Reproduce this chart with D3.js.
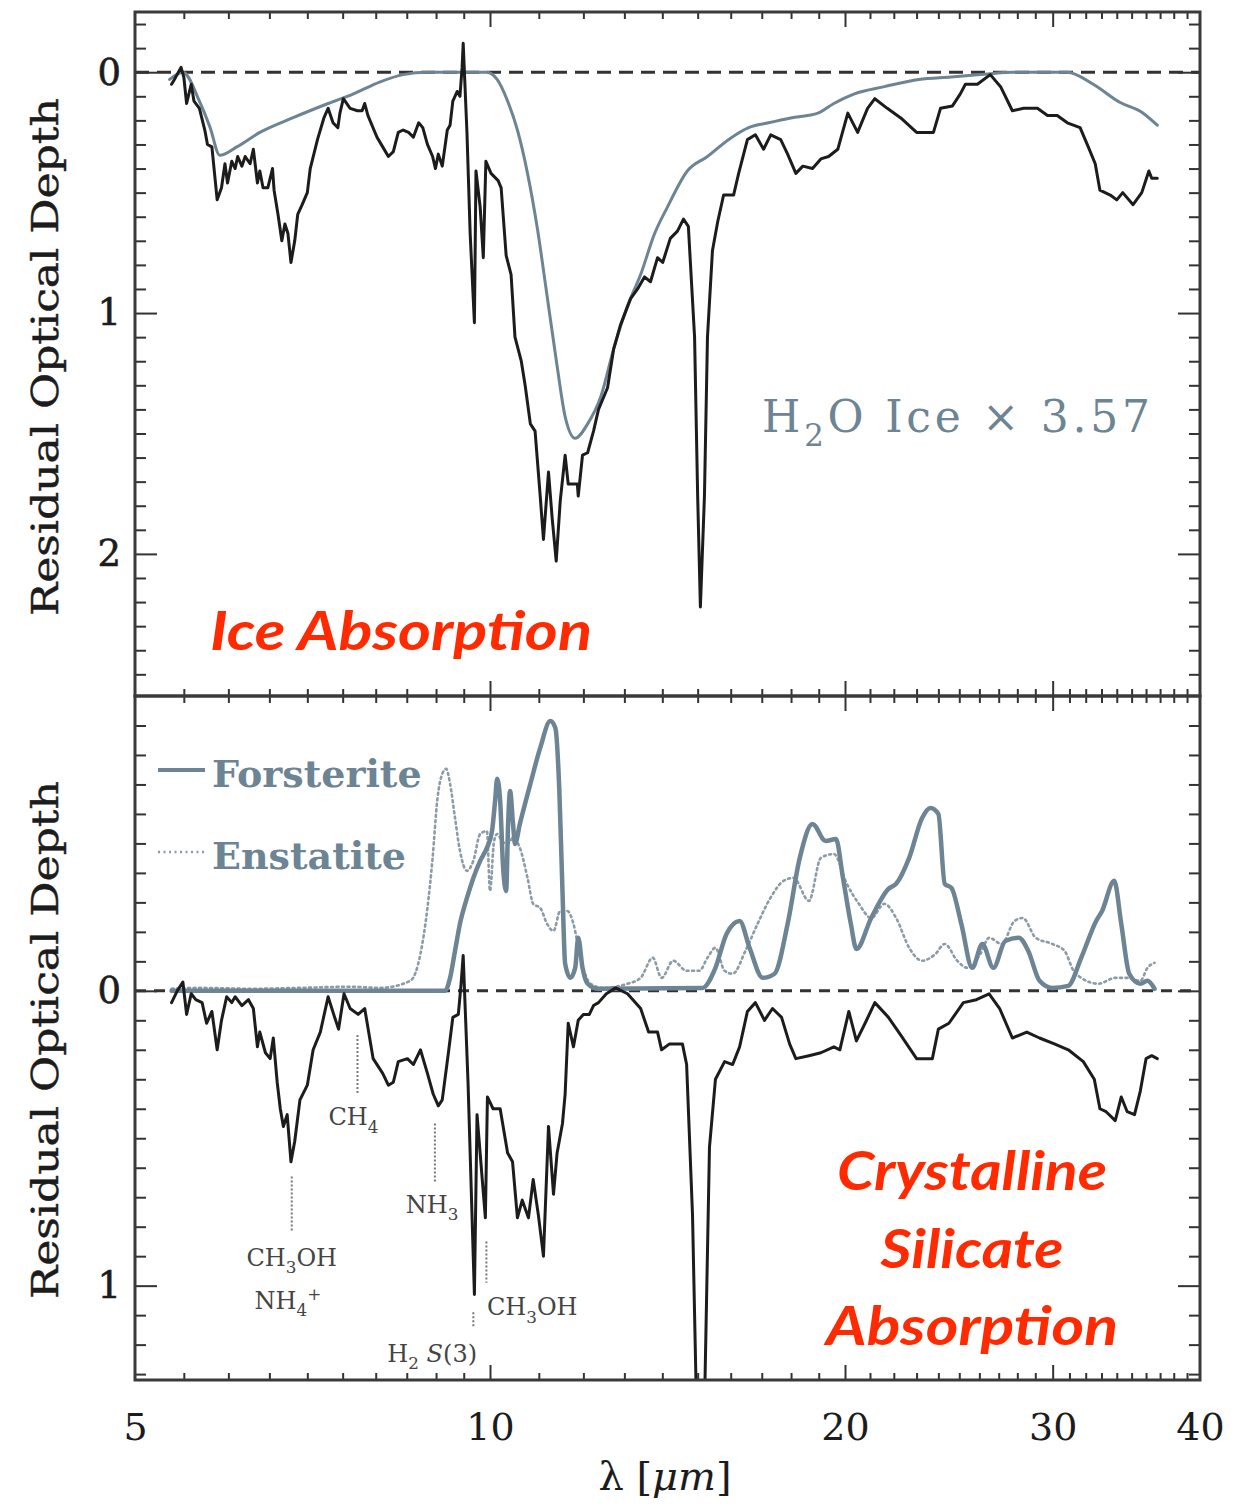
<!DOCTYPE html>
<html>
<head>
<meta charset="utf-8">
<script src="https://cdn.jsdelivr.net/npm/d3@7"></script>
<style>
  html, body { margin: 0; padding: 0; background: #fff; }
  svg { display: block; }
</style>
</head>
<body>
<svg id="chart" width="1236" height="1504"></svg>
<script>
// ---------------------------------------------------------------
// Spectra: [wavelength (µm), residual optical depth]
// ---------------------------------------------------------------

// Upper panel: residual after silicate removal
const iceResidual = [
  [5.37,0.05],[5.40,0.03],[5.47,-0.02],[5.50,0.02],[5.53,0.13],[5.58,0.05],[5.61,0.12],[5.67,0.15],
  [5.73,0.24],[5.76,0.30],[5.81,0.31],[5.84,0.42],[5.87,0.53],[5.92,0.48],[5.96,0.38],[5.99,0.46],
  [6.04,0.37],[6.08,0.40],[6.11,0.35],[6.16,0.39],[6.20,0.35],[6.26,0.38],[6.30,0.32],[6.35,0.46],
  [6.38,0.41],[6.42,0.48],[6.48,0.48],[6.54,0.40],[6.56,0.49],[6.61,0.59],[6.66,0.70],[6.70,0.63],
  [6.74,0.67],[6.78,0.79],[6.83,0.70],[6.87,0.59],[6.93,0.55],[7.00,0.50],[7.04,0.40],[7.14,0.28],
  [7.23,0.19],[7.29,0.15],[7.36,0.21],[7.43,0.23],[7.46,0.17],[7.51,0.11],[7.61,0.15],[7.72,0.16],
  [7.79,0.16],[7.83,0.13],[7.88,0.18],[8.02,0.27],[8.11,0.31],[8.20,0.35],[8.28,0.33],[8.36,0.25],
  [8.44,0.24],[8.53,0.25],[8.61,0.27],[8.70,0.21],[8.77,0.23],[8.85,0.30],[8.94,0.35],[8.99,0.40],
  [9.04,0.34],[9.11,0.39],[9.20,0.24],[9.25,0.22],[9.30,0.12],[9.38,0.08],[9.43,0.10],[9.47,-0.02],
  [9.49,-0.12],[9.56,0.25],[9.62,0.67],[9.70,1.04],[9.73,0.41],[9.81,0.56],[9.87,0.77],[9.92,0.37],
  [10.02,0.42],[10.16,0.45],[10.22,0.48],[10.32,0.76],[10.42,0.84],[10.50,1.10],[10.63,1.20],[10.71,1.30],
  [10.82,1.46],[10.92,1.49],[11.03,1.76],[11.10,1.94],[11.21,1.66],[11.29,1.85],[11.38,2.03],[11.47,1.78],
  [11.58,1.59],[11.65,1.71],[11.86,1.71],[11.88,1.76],[11.98,1.59],[12.10,1.58],[12.24,1.49],[12.36,1.40],
  [12.58,1.31],[12.73,1.15],[12.90,1.05],[13.16,0.94],[13.34,0.90],[13.52,0.85],[13.68,0.87],[13.87,0.77],
  [14.01,0.79],[14.22,0.69],[14.42,0.66],[14.59,0.61],[14.73,0.64],[14.91,1.10],[15.00,1.76],[15.08,2.22],
  [15.20,1.76],[15.29,1.10],[15.44,0.74],[15.60,0.62],[15.78,0.51],[16.09,0.51],[16.25,0.42],[16.53,0.28],
  [16.79,0.26],[17.06,0.32],[17.30,0.26],[17.64,0.28],[17.88,0.34],[18.17,0.42],[18.42,0.39],[18.77,0.40],
  [19.08,0.36],[19.37,0.35],[19.72,0.32],[20.11,0.17],[20.50,0.25],[20.90,0.15],[21.20,0.11],[21.72,0.15],
  [22.30,0.19],[23.00,0.25],[23.77,0.25],[24.10,0.15],[24.67,0.14],[25.05,0.09],[25.30,0.05],[25.90,0.05],
  [26.56,0.01],[27.10,0.06],[27.73,0.16],[28.35,0.15],[29.12,0.15],[29.70,0.18],[30.27,0.18],[30.87,0.21],
  [31.65,0.23],[32.16,0.31],[32.60,0.38],[32.90,0.49],[33.57,0.51],[34.00,0.53],[34.40,0.50],[35.10,0.55],
  [35.70,0.50],[36.20,0.41],[36.40,0.44],[36.80,0.44]
];

// Laboratory H2O ice profile, scaled by 3.57
const waterIce = [
  [5.35,0.03],[5.49,0.00],[5.67,0.12],[5.79,0.23],[5.90,0.345],[6.10,0.31],[6.38,0.25],[6.80,0.19],
  [7.29,0.13],[7.66,0.09],[8.07,0.04],[8.44,0.01],[8.85,0.00],[9.94,0.00],[10.14,0.03],[10.35,0.12],
  [10.55,0.24],[10.76,0.42],[10.97,0.65],[11.18,0.93],[11.40,1.22],[11.58,1.43],[11.81,1.52],[12.10,1.46],
  [12.41,1.35],[12.73,1.15],[13.08,0.97],[13.42,0.84],[13.79,0.67],[14.14,0.56],[14.70,0.41],[15.29,0.35],
  [15.93,0.28],[16.57,0.23],[17.23,0.21],[17.99,0.19],[18.97,0.17],[19.57,0.13],[20.37,0.09],[21.60,0.06],
  [23.10,0.03],[24.60,0.02],[26.05,0.01],[27.80,0.00],[30.87,0.00],[32.47,0.05],[34.20,0.125],[35.80,0.17],
  [36.80,0.22]
];

// Lower panel: residual after ice removal
const silicateResidual = [
  [5.37,0.04],[5.43,0.00],[5.49,-0.03],[5.53,0.08],[5.58,0.01],[5.63,0.03],[5.70,0.04],[5.75,0.11],
  [5.81,0.07],[5.87,0.20],[5.92,0.10],[5.98,0.02],[6.04,0.04],[6.08,0.02],[6.16,0.05],[6.24,0.03],
  [6.30,0.06],[6.35,0.19],[6.38,0.14],[6.45,0.21],[6.51,0.23],[6.55,0.16],[6.60,0.31],[6.64,0.40],
  [6.68,0.46],[6.73,0.42],[6.78,0.58],[6.83,0.51],[6.90,0.37],[7.00,0.32],[7.08,0.20],[7.18,0.14],
  [7.29,0.02],[7.37,0.08],[7.44,0.13],[7.52,0.01],[7.61,0.06],[7.73,0.08],[7.83,0.06],[7.96,0.23],
  [8.11,0.28],[8.20,0.32],[8.28,0.31],[8.36,0.24],[8.51,0.23],[8.61,0.25],[8.73,0.20],[8.85,0.28],
  [8.95,0.35],[9.04,0.39],[9.11,0.37],[9.22,0.21],[9.30,0.09],[9.40,0.08],[9.45,-0.02],[9.49,-0.12],
  [9.58,0.31],[9.70,1.03],[9.75,0.42],[9.85,0.64],[9.91,0.77],[9.95,0.36],[10.06,0.40],[10.20,0.40],
  [10.35,0.55],[10.45,0.58],[10.55,0.77],[10.65,0.71],[10.78,0.77],[10.88,0.64],[10.99,0.76],[11.10,0.90],
  [11.21,0.46],[11.32,0.69],[11.40,0.55],[11.52,0.45],[11.58,0.35],[11.65,0.11],[11.77,0.19],[11.88,0.10],
  [12.00,0.08],[12.14,0.08],[12.24,0.05],[12.36,0.04],[12.55,0.01],[12.78,-0.01],[13.08,0.01],[13.42,0.06],
  [13.63,0.14],[13.87,0.14],[13.98,0.20],[14.20,0.18],[14.56,0.18],[14.68,0.25],[14.85,0.76],[15.00,1.60],
  [15.08,2.20],[15.17,1.60],[15.35,0.53],[15.53,0.30],[15.81,0.24],[16.06,0.25],[16.28,0.19],[16.53,0.07],
  [16.79,0.04],[17.09,0.10],[17.36,0.06],[17.67,0.09],[17.95,0.18],[18.17,0.23],[18.64,0.22],[19.08,0.21],
  [19.57,0.19],[19.80,0.20],[20.15,0.07],[20.45,0.17],[20.80,0.11],[21.20,0.04],[21.77,0.09],[22.30,0.15],
  [23.00,0.23],[23.72,0.23],[24.00,0.13],[24.50,0.11],[25.20,0.04],[25.85,0.03],[26.50,0.01],[27.05,0.06],
  [27.73,0.16],[28.52,0.14],[29.24,0.16],[30.10,0.18],[30.93,0.20],[31.85,0.24],[32.54,0.30],[32.90,0.40],
  [33.30,0.41],[33.90,0.44],[34.30,0.36],[34.70,0.41],[35.20,0.42],[35.60,0.34],[36.00,0.23],[36.40,0.22],
  [36.80,0.23]
];

// Crystalline silicate templates (emissivity shown as negative depth)
const forsterite = [
  [5.37,0.00],[9.16,0.00],[9.25,-0.044],[9.34,-0.136],[9.43,-0.227],[9.56,-0.315],[9.68,-0.383],[9.81,-0.441],
  [9.94,-0.485],[10.04,-0.542],[10.10,-0.644],[10.14,-0.719],[10.20,-0.644],[10.26,-0.417],[10.32,-0.339],
  [10.36,-0.566],[10.40,-0.678],[10.46,-0.566],[10.50,-0.498],[10.60,-0.566],[10.82,-0.702],[11.03,-0.824],
  [11.25,-0.915],[11.36,-0.892],[11.45,-0.678],[11.52,-0.339],[11.58,-0.092],[11.70,-0.044],[11.81,-0.078],
  [11.88,-0.18],[11.98,-0.078],[12.10,-0.024],[12.34,-0.007],[15.14,-0.01],[15.53,-0.078],[15.87,-0.193],
  [16.28,-0.237],[16.60,-0.146],[17.03,-0.044],[17.43,-0.058],[17.88,-0.227],[18.31,-0.451],[18.77,-0.566],
  [19.26,-0.508],[19.65,-0.515],[19.92,-0.383],[20.23,-0.227],[20.45,-0.142],[21.05,-0.247],[21.77,-0.346],
  [22.10,-0.363],[22.67,-0.451],[23.25,-0.586],[23.63,-0.62],[24.00,-0.60],[24.30,-0.363],[24.62,-0.349],
  [25.10,-0.227],[25.64,-0.078],[26.15,-0.159],[26.72,-0.078],[27.35,-0.169],[28.08,-0.18],[28.60,-0.136],
  [29.24,-0.034],[29.98,-0.01],[30.93,-0.017],[31.72,-0.112],[32.66,-0.237],[33.04,-0.271],[33.83,-0.373],
  [34.30,-0.227],[34.84,-0.058],[35.60,-0.024],[36.10,-0.034],[36.60,-0.007]
];

const enstatite = [
  [5.37,-0.007],[5.67,-0.01],[6.26,-0.007],[6.90,-0.01],[7.61,-0.014],[8.07,-0.01],[8.56,-0.034],[8.73,-0.125],
  [8.85,-0.281],[8.94,-0.451],[9.02,-0.644],[9.11,-0.736],[9.18,-0.753],[9.25,-0.702],[9.34,-0.586],
  [9.43,-0.475],[9.56,-0.407],[9.68,-0.441],[9.81,-0.532],[9.94,-0.542],[10.00,-0.339],[10.08,-0.508],
  [10.14,-0.532],[10.24,-0.508],[10.35,-0.498],[10.46,-0.519],[10.60,-0.485],[10.76,-0.383],[10.88,-0.295],
  [11.03,-0.281],[11.18,-0.227],[11.32,-0.203],[11.47,-0.271],[11.63,-0.271],[11.77,-0.227],[11.93,-0.112],
  [12.17,-0.024],[12.46,-0.01],[13.08,-0.024],[13.42,-0.044],[13.74,-0.112],[13.98,-0.044],[14.30,-0.102],
  [14.68,-0.068],[15.05,-0.068],[15.29,-0.112],[15.53,-0.146],[15.81,-0.068],[16.06,-0.058],[16.47,-0.136],
  [16.86,-0.227],[17.29,-0.315],[17.74,-0.373],[18.09,-0.383],[18.64,-0.305],[19.08,-0.451],[19.57,-0.464],
  [20.07,-0.363],[20.55,-0.295],[21.05,-0.247],[21.60,-0.295],[22.10,-0.247],[22.67,-0.146],[23.25,-0.102],
  [23.86,-0.125],[24.30,-0.159],[24.90,-0.102],[25.40,-0.078],[26.05,-0.125],[26.50,-0.18],[27.15,-0.159],
  [27.85,-0.237],[28.30,-0.247],[29.02,-0.18],[29.98,-0.159],[30.70,-0.136],[31.25,-0.068],[31.72,-0.044],
  [32.80,-0.024],[33.90,-0.044],[34.70,-0.044],[35.60,-0.034],[36.10,-0.078],[36.60,-0.095]
];

// Axis ticks and labels
const xTickLabels = [5, 10, 20, 30, 40];
const xMajorTicks = [10, 20, 30];
const xMinorTicks = [].concat(d3.range(5.5, 10, 0.5), d3.range(11, 20), d3.range(21, 30), d3.range(31, 40));
const yTopLabels = [0, 1, 2];
const yBottomLabels = [0, 1];

// Band identifications in the lower panel (wavelength, depth range of the marker)
const bandMarkers = [
  { lam: 7.72, from: 0.15, to: 0.35 },
  { lam: 8.98, from: 0.45, to: 0.65 },
  { lam: 6.79, from: 0.63, to: 0.82 },
  { lam: 9.93, from: 0.85, to: 0.99 },
  { lam: 9.68, from: 1.09, to: 1.14 }
];
const bandLabels = [
  { text: "CH_4",       lam: 7.66, depth: 0.455, anchor: "middle" },
  { text: "NH_3",       lam: 8.93, depth: 0.752, anchor: "middle" },
  { text: "CH_3OH",     lam: 6.79, depth: 0.932, anchor: "middle" },
  { text: "NH_4^+",     lam: 6.74, depth: 1.078, anchor: "middle" },
  { text: "CH_3OH",     lam: 9.94, depth: 1.100, anchor: "start" },
  { text: "H_2 *S*(3)", lam: 9.75, depth: 1.258, anchor: "end" }
];

const legendItems = [
  { name: "Forsterite", dotted: false },
  { name: "Enstatite",  dotted: true }
];

// ---------------------------------------------------------------
// Layout and scales
// ---------------------------------------------------------------
const W = 1236, H = 1504;
const left = 135, right = 1200;
const topY = 12, midY = 696, botY = 1380;

const serif = "'DejaVu Serif', 'Liberation Serif', serif";
const ink = "#1c1c1c";
const frameInk = "#3a3a3a";
const slate = "#6c8493";
const slateLight = "#8b9ca7";
const red = "#ff2a00";

const x = d3.scaleLog().domain([5, 40]).range([left, right]);
const yTop = d3.scaleLinear().domain([-0.25, 2.59]).range([topY, midY]);
const yBot = d3.scaleLinear().domain([-1.0, 1.32]).range([midY, botY]);

const svg = d3.select("#chart");
svg.append("rect").attr("width", W).attr("height", H).attr("fill", "#fff");

const defs = svg.append("defs");
[["clipTop", topY, midY], ["clipBot", midY, botY]].forEach(([id, y0, y1]) => {
  defs.append("clipPath").attr("id", id)
    .append("rect").attr("x", left).attr("y", y0).attr("width", right - left).attr("height", y1 - y0);
});

// Sub/superscript and italic markup: _x subscript, ^x superscript, *text* italic
function richText(sel, str, size) {
  const re = /_(.)|\^(.)|\*([^*]+)\*|([^_^*]+)/g;
  let m, shift = 0;
  while ((m = re.exec(str))) {
    let target = 0, content, fs = size, style = "normal";
    if (m[1]) { content = m[1]; target = size * 0.32; fs = size * 0.7; }
    else if (m[2]) { content = m[2]; target = -size * 0.38; fs = size * 0.7; }
    else if (m[3]) { content = m[3]; style = "italic"; }
    else { content = m[4]; }
    sel.append("tspan")
      .attr("dy", target - shift)
      .attr("font-size", fs)
      .attr("font-style", style)
      .text(content);
    shift = target;
  }
}

// ---------------------------------------------------------------
// Panels
// ---------------------------------------------------------------
function zeroLine(y, dash) {
  svg.append("line")
    .attr("x1", x(5)).attr("x2", x(40))
    .attr("y1", y(0)).attr("y2", y(0))
    .attr("stroke", "#333").attr("stroke-width", 3)
    .attr("stroke-dasharray", dash);
}

function drawSeries(data, y, clip, opts) {
  const gen = d3.line().x(d => x(d[0])).y(d => y(d[1])).curve(opts.curve || d3.curveLinear);
  svg.append("path")
    .datum(data)
    .attr("clip-path", `url(#${clip})`)
    .attr("d", gen)
    .attr("fill", "none")
    .attr("stroke", opts.color)
    .attr("stroke-width", opts.width)
    .attr("stroke-linejoin", "round")
    .attr("stroke-linecap", "round")
    .attr("stroke-dasharray", opts.dash || null);
}

function edgeTicks(axis, values, size, transform) {
  const g = svg.append("g").attr("transform", transform)
    .call(axis.tickValues(values).tickSize(size).tickFormat(""));
  g.select(".domain").remove();
  g.selectAll("line").attr("stroke", "#333").attr("stroke-width", 2);
}

function panelTicks(y, y0, y1, minorY, majorY) {
  edgeTicks(d3.axisTop(x), xMinorTicks, -7, `translate(0,${y0})`);
  edgeTicks(d3.axisTop(x), xMajorTicks, -15, `translate(0,${y0})`);
  edgeTicks(d3.axisBottom(x), xMinorTicks, -7, `translate(0,${y1})`);
  edgeTicks(d3.axisBottom(x), xMajorTicks, -15, `translate(0,${y1})`);
  edgeTicks(d3.axisLeft(y), minorY, -11, `translate(${left},0)`);
  edgeTicks(d3.axisLeft(y), majorY, -22, `translate(${left},0)`);
  edgeTicks(d3.axisRight(y), minorY, -11, `translate(${right},0)`);
  edgeTicks(d3.axisRight(y), majorY, -22, `translate(${right},0)`);
}

function yLabels(y, values) {
  const g = svg.append("g").attr("transform", `translate(${left},0)`)
    .call(d3.axisLeft(y).tickValues(values).tickFormat(d3.format("d")).tickSize(0).tickPadding(14));
  g.select(".domain").remove();
  g.attr("font-family", serif).attr("font-size", 37);
  g.selectAll("text").attr("fill", ink).attr("stroke", ink).attr("stroke-width", 0.6);
}

function yTitle(cy) {
  svg.append("text")
    .attr("transform", `translate(58,${cy}) rotate(-90)`)
    .attr("text-anchor", "middle")
    .attr("font-family", serif)
    .attr("font-stretch", "condensed")
    .attr("font-size", 37)
    .attr("fill", ink)
    .attr("stroke", ink).attr("stroke-width", 0.4)
    .attr("textLength", 518)
    .attr("lengthAdjust", "spacingAndGlyphs")
    .text("Residual Optical Depth");
}

// --- upper panel: ice absorption
zeroLine(yTop, "14,8");
drawSeries(waterIce, yTop, "clipTop", { color: slate, width: 3, curve: d3.curveMonotoneX });
drawSeries(iceResidual, yTop, "clipTop", { color: ink, width: 3 });

const minorTop = d3.range(-2, 26).filter(i => i % 10 !== 0).map(i => i / 10);
panelTicks(yTop, topY, midY, minorTop, [0, 1, 2]);
yLabels(yTop, yTopLabels);
yTitle(357);

svg.append("text")
  .attr("x", 762).attr("y", 432)
  .attr("font-family", serif).attr("font-size", 44)
  .attr("fill", slate)
  .attr("textLength", 388).attr("lengthAdjust", "spacing")
  .call(t => richText(t, "H_2O Ice  \u00d7  3.57", 44));

svg.append("text")
  .attr("x", 210).attr("y", 650)
  .attr("font-family", "Lato, 'Open Sans', sans-serif")
  .attr("font-style", "italic").attr("font-weight", 700)
  .attr("font-size", 53).attr("fill", red)
  .attr("textLength", 382).attr("lengthAdjust", "spacingAndGlyphs")
  .text("Ice Absorption");

// --- lower panel: crystalline silicate absorption
zeroLine(yBot, "11,8");
drawSeries(enstatite, yBot, "clipBot", { color: slateLight, width: 2.6, dash: "2,3.5", curve: d3.curveMonotoneX });
drawSeries(forsterite, yBot, "clipBot", { color: slate, width: 4.5, curve: d3.curveMonotoneX });
drawSeries(silicateResidual, yBot, "clipBot", { color: ink, width: 3 });

const minorBot = d3.range(-9, 14).filter(i => i % 10 !== 0).map(i => i / 10);
panelTicks(yBot, midY, botY, minorBot, [0, 1]);
yLabels(yBot, yBottomLabels);
yTitle(1040);

// band identification markers
svg.append("g").selectAll("line").data(bandMarkers).join("line")
  .attr("x1", d => x(d.lam)).attr("x2", d => x(d.lam))
  .attr("y1", d => yBot(d.from)).attr("y2", d => yBot(d.to))
  .attr("stroke", "#777").attr("stroke-width", 2).attr("stroke-dasharray", "2,2");

svg.append("g").selectAll("text").data(bandLabels).join("text")
  .attr("x", d => x(d.lam)).attr("y", d => yBot(d.depth))
  .attr("text-anchor", d => d.anchor)
  .attr("font-family", serif).attr("font-size", 24)
  .attr("fill", "#444")
  .each(function (d) { richText(d3.select(this), d.text, 24); });

// legend
const legend = svg.append("g").selectAll("g").data(legendItems).join("g")
  .attr("transform", (d, i) => `translate(158,${770 + i * 82})`);
legend.append("line")
  .attr("x1", 0).attr("x2", 47).attr("y1", 0).attr("y2", 0)
  .attr("stroke", d => d.dotted ? slateLight : slate)
  .attr("stroke-width", d => d.dotted ? 2.6 : 4)
  .attr("stroke-dasharray", d => d.dotted ? "2,3.5" : null);
legend.append("text")
  .attr("x", 54).attr("y", 17)
  .attr("font-family", serif).attr("font-weight", 700).attr("font-size", 38)
  .attr("fill", slate)
  .text(d => d.name);

// red caption
const caption = [["Crystalline", 1190, 270], ["Silicate", 1268, 183], ["Absorption", 1345, 292]];
svg.append("g").selectAll("text").data(caption).join("text")
  .attr("x", 972).attr("y", d => d[1])
  .attr("text-anchor", "middle")
  .attr("font-family", "Lato, 'Open Sans', sans-serif")
  .attr("font-style", "italic").attr("font-weight", 700)
  .attr("font-size", 53).attr("fill", red)
  .attr("textLength", d => d[2]).attr("lengthAdjust", "spacingAndGlyphs")
  .text(d => d[0]);

// frames
[[topY, midY], [midY, botY]].forEach(([y0, y1]) => {
  svg.append("rect")
    .attr("x", left).attr("y", y0).attr("width", right - left).attr("height", y1 - y0)
    .attr("fill", "none").attr("stroke", frameInk).attr("stroke-width", 3);
});

// x axis labels
const xl = svg.append("g").attr("transform", `translate(0,${botY})`)
  .call(d3.axisBottom(x).tickValues(xTickLabels).tickFormat(d3.format("d")).tickSize(0));
xl.select(".domain").remove();
xl.attr("font-family", serif).attr("font-size", 38);
xl.selectAll("text").attr("y", 60).attr("dy", null).attr("fill", ink);

svg.append("text")
  .attr("x", 665).attr("y", 1490)
  .attr("text-anchor", "middle")
  .attr("font-family", serif).attr("font-size", 40)
  .attr("fill", ink)
  .call(t => {
    t.append("tspan").text("\u03bb [");
    t.append("tspan").attr("font-style", "italic").text("\u03bcm");
    t.append("tspan").text("]");
  });
</script>
</body>
</html>
